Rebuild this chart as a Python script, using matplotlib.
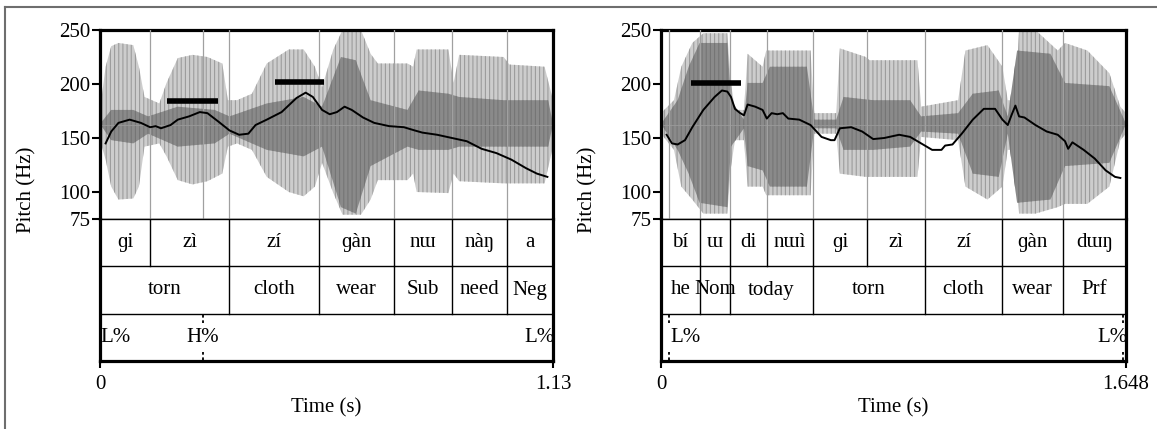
import matplotlib
matplotlib.use('Agg')
import matplotlib.pyplot as plt
from matplotlib.lines import Line2D

plt.rcParams['font.family'] = ['Liberation Serif', 'DejaVu Serif']
plt.rcParams['hatch.linewidth'] = 0.8

# ---------------- left utterance ----------------
L_DUR = 1.13
L_PITCH_T = [0.014, 0.028, 0.046, 0.074, 0.102, 0.125, 0.139, 0.152, 0.176, 0.194, 0.222, 0.249,
             0.268, 0.296, 0.323, 0.347, 0.370, 0.388, 0.416, 0.453, 0.490, 0.513, 0.531, 0.554,
             0.573, 0.591, 0.610, 0.628, 0.656, 0.684, 0.721, 0.758, 0.785, 0.804, 0.841, 0.878,
             0.915, 0.952, 0.989, 1.026, 1.063, 1.090, 1.116]
L_PITCH_HZ = [145, 156, 164, 167, 164, 160, 161, 159, 162, 167, 170, 174,
              173, 165, 157, 153, 154, 162, 167, 174, 187, 192, 188, 176,
              172, 174, 179, 176, 169, 164, 161, 160, 157, 155, 153, 150,
              147, 140, 136, 130, 122, 117, 114]

# waveform envelope (outer = light gray, inner = dark gray), in Hz units of the display
L_ENV_T = [0, 0.014, 0.028, 0.046, 0.083, 0.097, 0.111, 0.148, 0.166, 0.194, 0.231, 0.268,
           0.305, 0.319, 0.342, 0.379, 0.416, 0.471, 0.508, 0.536, 0.554, 0.582, 0.605, 0.651,
           0.675, 0.693, 0.767, 0.781, 0.790, 0.869, 0.882, 0.896, 1.007, 1.021, 1.109, 1.13]
L_ENV_TOP = [176, 216, 235, 238, 236, 216, 188, 182, 201, 224, 227, 225,
             219, 185, 185, 191, 219, 232, 232, 216, 197, 232, 250, 250,
             228, 219, 219, 216, 232, 232, 201, 227, 225, 218, 216, 185]
L_ENV_BOT = [148, 130, 105, 93, 94, 105, 142, 145, 133, 111, 107, 110,
             117, 142, 145, 139, 114, 100, 96, 105, 127, 99, 79, 79,
             93, 111, 111, 117, 100, 99, 117, 110, 108, 108, 108, 142]
L_IN_T = [0, 0.028, 0.083, 0.120, 0.194, 0.286, 0.323, 0.416, 0.508, 0.554,
          0.601, 0.638, 0.675, 0.767, 0.795, 0.869, 0.896, 1.007, 1.118, 1.13]
L_IN_TOP = [163, 176, 176, 170, 179, 176, 170, 182, 188, 179,
            225, 222, 185, 176, 194, 191, 188, 185, 185, 163]
L_IN_BOT = [163, 148, 145, 154, 142, 145, 154, 139, 133, 142,
            86, 80, 124, 142, 139, 139, 142, 142, 142, 163]

L_SYL_BOUNDS = [0.125, 0.322, 0.547, 0.734, 0.877, 1.016]
L_SYL_LABELS = ['ɡi', 'zì', 'zí', 'ɡàn', 'nɯ', 'nàŋ', 'a']
L_GLOSS_BOUNDS = [0.322, 0.547, 0.734, 0.877, 1.016]
L_GLOSS_LABELS = ['torn', 'cloth', 'wear', 'Sub', 'need', 'Neg']
L_TONE_T = [0.0, 0.257, 1.13]
L_TONE_LABELS = ['L%', 'H%', 'L%']
L_BARS = [(0.168, 0.294, 184), (0.437, 0.559, 201.5)]

# ---------------- right utterance ----------------
R_DUR = 1.648
R_PITCH_T = [0.020, 0.039, 0.059, 0.085, 0.111, 0.150, 0.190, 0.216, 0.235, 0.248, 0.262, 0.281,
             0.294, 0.307, 0.334, 0.360, 0.375, 0.392, 0.412, 0.432, 0.451, 0.490, 0.530, 0.569,
             0.602, 0.615, 0.634, 0.674, 0.713, 0.752, 0.791, 0.844, 0.883, 0.922, 0.961, 0.994,
             1.007, 1.033, 1.066, 1.105, 1.144, 1.184, 1.210, 1.229, 1.242, 1.256, 1.269, 1.288,
             1.327, 1.367, 1.406, 1.432, 1.443, 1.458, 1.498, 1.537, 1.576, 1.609, 1.628]
R_PITCH_HZ = [153, 145, 144, 148, 160, 176, 188, 194, 193, 188, 177, 173,
              171, 181, 179, 176, 168, 173, 172, 173, 168, 167, 162, 151,
              148, 148, 159, 160, 156, 149, 150, 153, 151, 145, 139, 139,
              143, 144, 154, 167, 177, 177, 167, 162, 171, 180, 170, 169,
              162, 156, 153, 147, 140, 146, 139, 131, 120, 114, 113]

R_ENV_T = [0, 0.046, 0.072, 0.111, 0.150, 0.235, 0.248, 0.262, 0.294, 0.307, 0.360, 0.373,
           0.530, 0.543, 0.621, 0.634, 0.726, 0.739, 0.909, 0.922, 1.053, 1.079, 1.157, 1.210,
           1.229, 1.256, 1.269, 1.327, 1.406, 1.432, 1.511, 1.589, 1.628, 1.648]
R_ENV_TOP = [173, 185, 216, 238, 247, 247, 201, 176, 176, 228, 216, 231,
             231, 173, 173, 233, 225, 222, 222, 179, 185, 231, 236, 216,
             185, 185, 250, 250, 231, 238, 231, 210, 179, 173]
R_ENV_BOT = [154, 139, 105, 93, 80, 80, 123, 148, 148, 105, 105, 97,
             97, 154, 154, 117, 114, 114, 114, 151, 148, 105, 93, 105,
             139, 139, 80, 80, 86, 89, 89, 105, 148, 154]
R_IN_T = [0, 0.059, 0.098, 0.137, 0.235, 0.248, 0.294, 0.307, 0.360, 0.386, 0.517, 0.543,
          0.621, 0.647, 0.752, 0.883, 0.922, 1.053, 1.105, 1.197, 1.229, 1.262, 1.380, 1.432,
          1.589, 1.648]
R_IN_TOP = [163, 185, 216, 238, 238, 185, 167, 201, 201, 216, 216, 167,
            167, 188, 185, 185, 170, 173, 191, 194, 170, 231, 228, 201,
            198, 163]
R_IN_BOT = [163, 139, 117, 90, 86, 142, 159, 124, 120, 105, 105, 159,
            159, 139, 139, 142, 156, 154, 117, 114, 154, 90, 93, 124,
            127, 163]

R_SYL_BOUNDS = [0.137, 0.245, 0.374, 0.538, 0.730, 0.935, 1.210, 1.424]
R_SYL_LABELS = ['bí', 'ɯ', 'di', 'nɯì', 'ɡi', 'zì', 'zí', 'ɡàn', 'dɯŋ']
R_GLOSS_BOUNDS = [0.137, 0.245, 0.538, 0.935, 1.210, 1.424]
R_GLOSS_LABELS = ['he', 'Nom', 'today', 'torn', 'cloth', 'wear', 'Prf']
R_TONE_T = [0.030, 1.639]
R_TONE_LABELS = ['L%', 'L%']
R_BARS = [(0.105, 0.284, 201)]

W, H = 1157, 429
fig = plt.figure(figsize=(W / 100, H / 100), dpi=100)

THICK = 2.3
THIN = 1.0
FS = 15


def centers(bounds, dur):
    edges = [0] + bounds + [dur]
    return [(a + b) / 2 for a, b in zip(edges[:-1], edges[1:])]


def draw_panel(x0, x1, dur, p_t, p_hz, env, inner, syl_b, syl_l, gl_b, gl_l,
               tone_t, tone_l, bars, fmt):
    left = x0 / W
    width = (x1 - x0) / W
    ax_p = fig.add_axes([left, (H - 219) / H, width, 189 / H])
    ax_t = fig.add_axes([left, (H - 361) / H, width, 142 / H])

    # waveform
    ax_p.fill_between(env[0], env[2], env[1], facecolor='#cdcdcd', edgecolor='#9c9c9c',
                      hatch='||||', linewidth=0, zorder=1)
    ax_p.fill_between(inner[0], inner[2], inner[1], facecolor='#8a8a8a', edgecolor='#757575',
                      hatch='||||', linewidth=0, zorder=2)
    ax_p.axhline(162.5, color='#9a9a9a', lw=0.6, zorder=2)

    # boundary lines across the pitch area
    pts = [t for t in tone_t if 0 < t < dur - 0.02]
    for t in syl_b + pts:
        ax_p.axvline(t, color='#a0a0a0', lw=0.9, zorder=3)

    ax_p.plot(p_t, p_hz, color='black', lw=1.4, zorder=5)
    for a, b, hz in bars:
        ax_p.plot([a, b], [hz, hz], color='black', lw=4.0, solid_capstyle='butt', zorder=6)

    ax_p.set_xlim(0, dur)
    ax_p.set_ylim(75, 250)
    ax_p.set_yticks([75, 100, 150, 200, 250])
    ax_p.set_xticks([])
    ax_p.tick_params(axis='y', direction='out', length=6, width=1.5, pad=1, labelsize=FS)
    for s in ['left', 'top', 'right']:
        ax_p.spines[s].set_linewidth(THICK)
    ax_p.spines['bottom'].set_linewidth(THIN)

    # tiers
    ax_t.set_xlim(0, dur)
    ax_t.set_ylim(0, 3)
    ax_t.axhline(2, color='black', lw=THIN)
    ax_t.axhline(1, color='black', lw=THIN)
    for t in syl_b:
        ax_t.plot([t, t], [2, 3], color='black', lw=THIN)
    for t in gl_b:
        ax_t.plot([t, t], [1, 2], color='black', lw=THIN)
    for t, lab in zip(centers(syl_b, dur), syl_l):
        ax_t.text(t, 2.5, lab, ha='center', va='center', fontsize=FS)
    for t, lab in zip(centers(gl_b, dur), gl_l):
        ax_t.text(t, 1.5, lab, ha='center', va='center', fontsize=FS)
    for t, lab in zip(tone_t, tone_l):
        ax_t.plot([t, t], [1, 0.8], color='black', lw=1.3, ls=(0, (2, 1.5)))
        ax_t.plot([t, t], [0, 0.2], color='black', lw=1.3, ls=(0, (2, 1.5)))
        if t < 0.05:
            ax_t.text(t + dur * 0.001, 0.5, lab, ha='left', va='center', fontsize=FS)
        elif t > dur - 0.05:
            ax_t.text(dur + dur * 0.004, 0.5, lab, ha='right', va='center', fontsize=FS,
                      clip_on=True)
        else:
            ax_t.text(t, 0.5, lab, ha='center', va='center', fontsize=FS)

    ax_t.set_yticks([])
    ax_t.set_xticks([0, dur])
    ax_t.set_xticklabels(['0', fmt])
    ax_t.tick_params(axis='x', direction='out', length=5, width=1.5, pad=5, labelsize=FS)
    for s in ['left', 'bottom', 'right']:
        ax_t.spines[s].set_linewidth(THICK)
    ax_t.spines['top'].set_linewidth(THIN)

    fig.text((x0 + x1) / 2 / W, 1 - 408 / H, 'Time (s)', ha='center', va='center', fontsize=FS)
    fig.text((x0 - 73) / W, 1 - 190 / H, 'Pitch (Hz)', rotation=90, ha='center', va='center',
             fontsize=FS)


draw_panel(100, 553, L_DUR, L_PITCH_T, L_PITCH_HZ,
           (L_ENV_T, L_ENV_TOP, L_ENV_BOT), (L_IN_T, L_IN_TOP, L_IN_BOT),
           L_SYL_BOUNDS, L_SYL_LABELS, L_GLOSS_BOUNDS, L_GLOSS_LABELS,
           L_TONE_T, L_TONE_LABELS, L_BARS, '1.13')
draw_panel(661, 1126, R_DUR, R_PITCH_T, R_PITCH_HZ,
           (R_ENV_T, R_ENV_TOP, R_ENV_BOT), (R_IN_T, R_IN_TOP, R_IN_BOT),
           R_SYL_BOUNDS, R_SYL_LABELS, R_GLOSS_BOUNDS, R_GLOSS_LABELS,
           R_TONE_T, R_TONE_LABELS, R_BARS, '1.648')

# outer gray frame (left and top edges)
fig.add_artist(Line2D([5 / W, 5 / W], [0, 1 - 7 / H], color='#6e6e6e', lw=1.5))
fig.add_artist(Line2D([5 / W, 1], [1 - 7 / H, 1 - 7 / H], color='#6e6e6e', lw=1.5))

fig.savefig('out.png', dpi=100)
